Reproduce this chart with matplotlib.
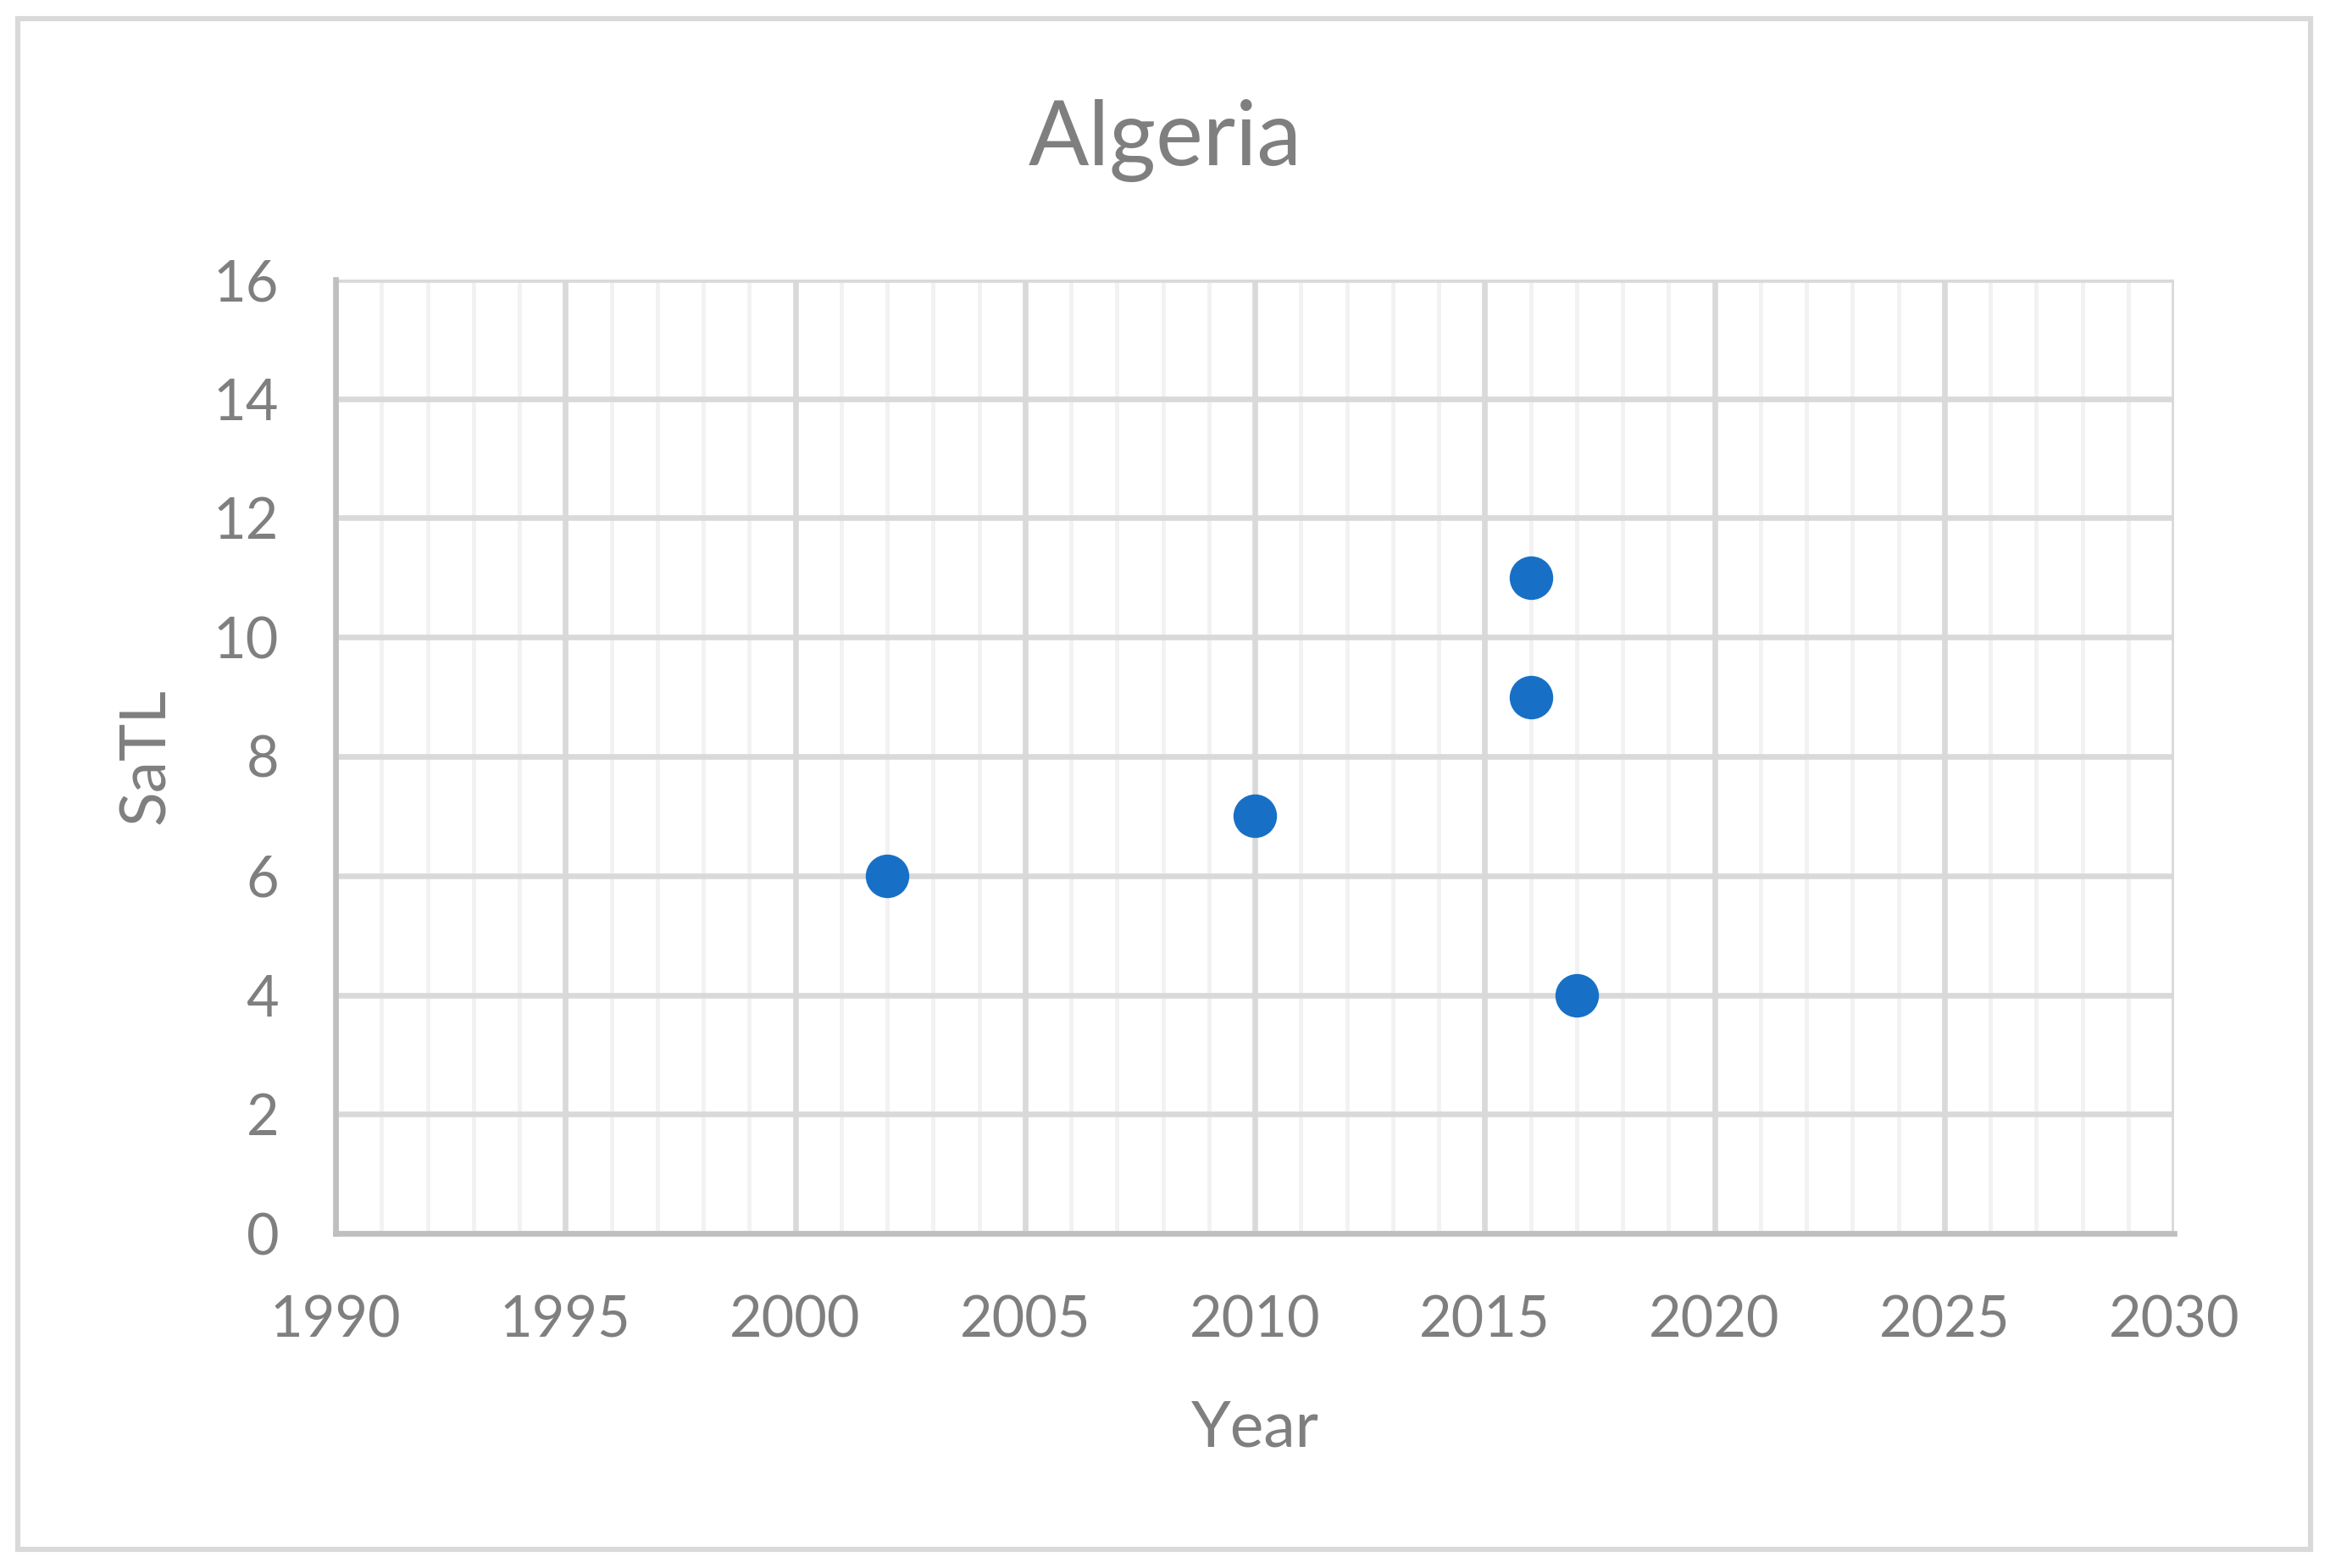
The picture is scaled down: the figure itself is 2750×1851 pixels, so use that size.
import matplotlib.pyplot as plt
from matplotlib.ticker import MultipleLocator
from matplotlib.patches import Rectangle

# data
years = [2002, 2010, 2016, 2016, 2017]
satl = [6, 7, 11, 9, 4]

grey = "#7f7f7f"
plt.rcParams['font.family'] = ['Lato', 'DejaVu Sans']

fig = plt.figure(figsize=(13.75, 9.255), dpi=200)
ax = fig.add_axes([396 / 2750, 1 - 1456 / 1851, (2566 - 396) / 2750, (1456 - 330) / 1851])

ax.scatter(years, satl, s=18.5 ** 2, color="#1770C6", zorder=3, linewidths=0)

ax.set_xlim(1990, 2030)
ax.set_ylim(0, 16)
ax.xaxis.set_major_locator(MultipleLocator(5))
ax.xaxis.set_minor_locator(MultipleLocator(1))
ax.yaxis.set_major_locator(MultipleLocator(2))

ax.grid(which="major", axis="both", color="#d9d9d9", linewidth=2.4, zorder=0)
ax.grid(which="minor", axis="x", color="#f2f2f2", linewidth=1.8, zorder=0)
ax.set_axisbelow(True)

for side in ["top", "right"]:
    ax.spines[side].set_visible(False)
for side in ["left", "bottom"]:
    ax.spines[side].set_color("#bfbfbf")
    ax.spines[side].set_linewidth(2.4)

ax.tick_params(which="both", length=0, labelsize=24, labelcolor=grey)
ax.tick_params(axis="x", pad=26)
ax.tick_params(axis="y", pad=24)

ax.set_xlabel("Year", fontsize=27, color=grey, labelpad=22)
ax.set_ylabel("SaTL", fontsize=27, color=grey, labelpad=16)
fig.text(0.5, 1 - 166 / 1851, "Algeria", fontsize=38, color=grey, ha="center", va="center")

# chart border
fig.patches.append(Rectangle((21 / 2750, 22 / 1851), (2727 - 21) / 2750, (1829 - 22) / 1851,
                             transform=fig.transFigure, fill=False, edgecolor="#d9d9d9", linewidth=2.2))

fig.savefig("out.png", dpi=200, facecolor="white")
